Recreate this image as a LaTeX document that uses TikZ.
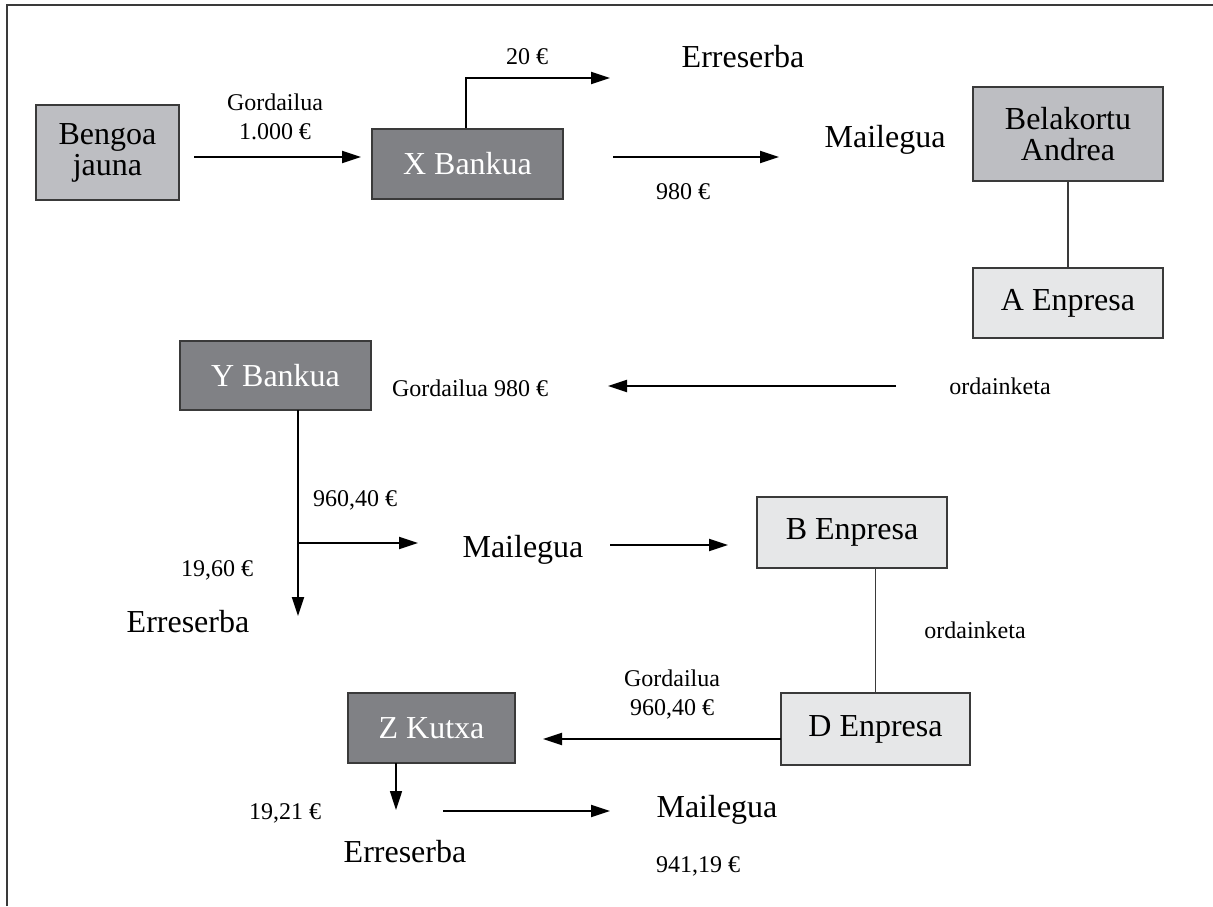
\documentclass[tikz,border=0pt]{standalone}
\usepackage{fontspec}
\setmainfont{Liberation Serif}
\usetikzlibrary{arrows.meta}

\definecolor{bankgray}{HTML}{808185}
\definecolor{persongray}{HTML}{BDBEC2}
\definecolor{firmgray}{HTML}{E6E7E8}
\definecolor{edgegray}{HTML}{3A3A3A}

\tikzset{
  box/.style={draw=edgegray, line width=0.75pt, inner sep=0pt, align=center,
              font=\fontsize{16}{15.5}\selectfont},
  bank/.style={box, fill=bankgray, text=white},
  person/.style={box, fill=persongray},
  firm/.style={box, fill=firmgray},
  big/.style={font=\fontsize{16}{16}\selectfont},
  small/.style={font=\fontsize{12}{14.5}\selectfont, align=center},
  flow/.style={line width=1pt, -{Triangle[length=9.5pt,width=6pt]}},
  tie/.style={line width=0.6pt, draw=edgegray},
}

\begin{document}
\begin{tikzpicture}[x=0.5pt, y=-0.5pt]
  \useasboundingbox (0,0) rectangle (1213,906);
  % cropped frame
  \draw[edgegray, line width=0.6pt] (7,906) -- (7,5) -- (1213,5);

  % boxes
  \node[person, minimum width=71.5pt, minimum height=47.5pt] (bengoa) at (107.5,152.5) {Bengoa\\jauna};
  \node[bank, minimum width=95.5pt, minimum height=35pt] (xbank) at (467.5,164) {X Bankua};
  \node[person, minimum width=95pt, minimum height=47pt] (belak) at (1068,134) {Belakortu\\Andrea};
  \node[firm, minimum width=95pt, minimum height=35pt] (afirm) at (1068,303) {A Enpresa};
  \node[bank, minimum width=95.5pt, minimum height=34.5pt] (ybank) at (275.5,375.5) {Y Bankua};
  \node[firm, minimum width=95pt, minimum height=35.5pt] (bfirm) at (852,532.5) {B Enpresa};
  \node[firm, minimum width=94.5pt, minimum height=36pt] (dfirm) at (875.5,729) {D Enpresa};
  \node[bank, minimum width=83.5pt, minimum height=35pt] (zkutxa) at (431.5,728) {Z Kutxa};

  % texts
  \node[small] (gord1) at (275,117) {Gordailua\\1.000 €};
  \node[small] (amt20) at (527,57) {20 €};
  \node[big] (erres1) at (743,57) {Erreserba};
  \node[small] (amt980) at (683,192) {980 €};
  \node[big] (mail1) at (885,140) {Mailegua};
  \node[small] (gord2) at (470,388) {Gordailua 980 €};
  \node[small] (ord1) at (1000,386) {ordainketa};
  \node[small] (amt960) at (355,500) {960,40 €};
  \node[small] (amt1960) at (217,570) {19,60 €};
  \node[big] (erres2) at (188,622) {Erreserba};
  \node[big] (mail2) at (523,550) {Mailegua};
  \node[small] (ord2) at (975,630) {ordainketa};
  \node[small] (gord3) at (672,695) {Gordailua\\960,40 €};
  \node[small] (amt1921) at (285,813) {19,21 €};
  \node[big] (erres3) at (405,852) {Erreserba};
  \node[big] (mail3) at (717,810) {Mailegua};
  \node[small] (amt94119) at (698,866) {941,19 €};

  % arrow ends
  \coordinate (a1s) at (194,157);  \coordinate (a1e) at (361,157);
  \coordinate (a2e) at (610,78);
  \coordinate (a3s) at (613,157);  \coordinate (a3e) at (779,157);
  \coordinate (a4s) at (896,386);  \coordinate (a4e) at (608,386);
  \coordinate (ys) at (298,410);   \coordinate (ye) at (298,616);
  \coordinate (yb) at (298,543);   \coordinate (ybe) at (418,543);
  \coordinate (a6s) at (610,545);  \coordinate (a6e) at (728,545);
  \coordinate (a7s) at (781,739);  \coordinate (a7e) at (543,739);
  \coordinate (zs) at (396,763);   \coordinate (ze) at (396,810);
  \coordinate (a9s) at (443,811);  \coordinate (a9e) at (610,811);

  % connectors
  \draw[flow] (a1s) -- (a1e);
  \draw[flow] (xbank.north -| 466,0) |- (a2e);
  \draw[flow] (a3s) -- (a3e);
  \draw[tie] (belak) -- (afirm);
  \draw[flow] (a4s) -- (a4e);
  \draw[flow] (ys) -- (ye);
  \draw[flow] (yb) -- (ybe);
  \draw[flow] (a6s) -- (a6e);
  \draw[tie] (dfirm.north) -- (dfirm.north |- bfirm.south);
  \draw[flow] (a7s) -- (a7e);
  \draw[flow, line width=0.8pt] (zs) -- (ze);
  \draw[flow] (a9s) -- (a9e);
\end{tikzpicture}
\end{document}
